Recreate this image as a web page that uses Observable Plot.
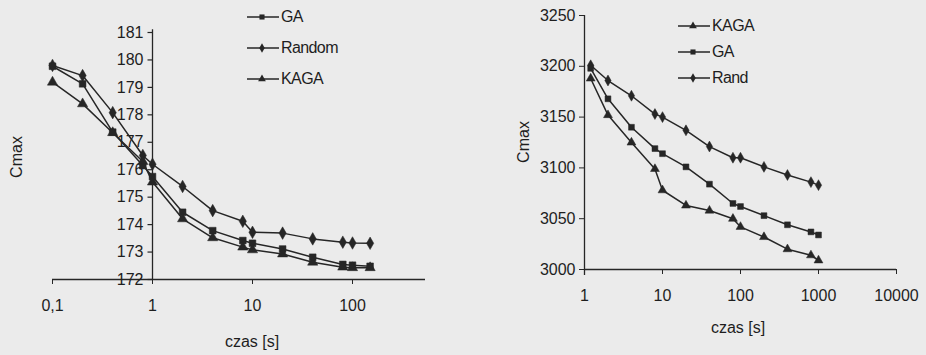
<!DOCTYPE html>
<html>
<head>
<meta charset="utf-8">
<script src="https://cdn.jsdelivr.net/npm/d3@7"></script>
<script src="https://cdn.jsdelivr.net/npm/@observablehq/plot@0.6"></script>
<style>
  html, body { margin: 0; padding: 0; background: #ebebeb; }
  #wrap { position: relative; width: 926px; height: 355px; overflow: hidden; background: #ebebeb;
          font-family: "Liberation Sans", Arial, sans-serif; color: #1e1e1e; }
  .panel { position: absolute; top: 0; }
  .lbl { position: absolute; font-size: 16px; white-space: nowrap; }
  .rot { transform: translate(-50%, -50%) rotate(-90deg); }
  .ctr { transform: translate(-50%, -50%); }
  .leg { position: absolute; display: flex; align-items: center; font-size: 16px; letter-spacing: -0.6px; }
  .leg svg { margin-right: 2px; }
</style>
</head>
<body>
<div id="wrap"></div>
<script>
// ---------- Left chart data ----------
const timesLeft = [0.1, 0.2, 0.4, 0.8, 1, 2, 4, 8, 10, 20, 40, 80, 100, 150];
const gaLeft     = [179.77, 179.13, 177.37, 176.15, 175.75, 174.45, 173.78, 173.42, 173.32, 173.11, 172.81, 172.55, 172.52, 172.48];
const randomLeft = [179.80, 179.43, 178.08, 176.52, 176.20, 175.39, 174.51, 174.12, 173.72, 173.69, 173.48, 173.36, 173.33, 173.32];
const kagaLeft   = [179.19, 178.40, 177.35, 176.30, 175.55, 174.21, 173.52, 173.18, 173.08, 172.93, 172.63, 172.45, 172.43, 172.43];
const seriesLeft = ["GA", "Random", "KAGA"];
const yTicksLeft = [172, 173, 174, 175, 176, 177, 178, 179, 180, 181];
const xTicksLeft = [0.1, 1, 10, 100];

// ---------- Right chart data ----------
const timesRight = [1.2, 2, 4, 8, 10, 20, 40, 80, 100, 200, 400, 800, 1000];
const kagaRight  = [3188, 3152, 3125, 3099, 3078, 3063, 3058, 3050, 3042, 3032, 3020, 3014, 3009];
const gaRight    = [3198, 3168, 3140, 3119, 3114, 3101, 3084, 3065, 3062, 3053, 3044, 3037, 3034];
const randRight  = [3201, 3186, 3171, 3153, 3150, 3137, 3121, 3110, 3110, 3101, 3093, 3086, 3083];
const seriesRight = ["KAGA", "GA", "Rand"];
const yTicksRight = [3000, 3050, 3100, 3150, 3200, 3250];
const xTicksRight = [1, 10, 100, 1000, 10000];

const INK = "#262626";
const FONT = '"Liberation Sans", Arial, sans-serif';
const fmtComma = d => String(d).replace(".", ",");
const tickSym = { draw(ctx) { ctx.moveTo(-5, 0); ctx.lineTo(0, 0); } };

function rows(times, names, arrays) {
  const out = [];
  names.forEach((name, i) => arrays[i].forEach((v, j) => out.push({ t: times[j], v, series: name })));
  return out;
}

const leftRows = rows(timesLeft, seriesLeft, [gaLeft, randomLeft, kagaLeft]);
const rightRows = rows(timesRight, seriesRight, [kagaRight, gaRight, randRight]);

const symbolMap = { GA: "square", Random: "diamond", Rand: "diamond", KAGA: "triangle" };

const left = Plot.plot({
  width: 460, height: 355,
  marginLeft: 52, marginRight: 35, marginTop: 32, marginBottom: 76,
  style: { background: "transparent", fontFamily: FONT, fontSize: "16px", color: "#1e1e1e", overflow: "visible" },
  x: { type: "log", domain: [0.1, 537] },
  y: { domain: [172, 181], axis: null },
  symbol: { domain: seriesLeft, range: seriesLeft.map(s => symbolMap[s]) },
  marks: [
    Plot.ruleY([172], { stroke: INK, strokeWidth: 1.3 }),
    Plot.ruleX([1], { y1: () => 172, y2: () => 181.1, stroke: INK, strokeWidth: 1.3 }),
    Plot.axisX({ ticks: xTicksLeft, tickSize: 5, tickPadding: 15, tickFormat: fmtComma, label: null, stroke: INK }),
    Plot.dot(yTicksLeft, { x: () => 1, y: d => d, symbol: tickSym, stroke: INK, fill: "none", strokeWidth: 1.2 }),
    Plot.text(yTicksLeft, { x: () => 1, y: d => d, dx: -9, textAnchor: "end", fill: "#1e1e1e", fontSize: 16 }),
    Plot.line(leftRows, { x: "t", y: "v", z: "series", stroke: INK, strokeWidth: 1.5 }),
    Plot.dot(leftRows, { x: "t", y: "v", symbol: "series", fill: INK, stroke: INK, strokeWidth: 0.5, r: 3.8 })
  ]
});

const right = Plot.plot({
  width: 466, height: 355,
  marginLeft: 124, marginRight: 30, marginTop: 15, marginBottom: 86,
  style: { background: "transparent", fontFamily: FONT, fontSize: "16px", color: "#1e1e1e", overflow: "visible" },
  x: { type: "log", domain: [1, 10000] },
  y: { domain: [3000, 3250] },
  symbol: { domain: seriesRight, range: seriesRight.map(s => symbolMap[s]) },
  marks: [
    Plot.ruleY([3000], { stroke: INK, strokeWidth: 1.3 }),
    Plot.ruleX([1], { y1: () => 2994, y2: () => 3250, stroke: INK, strokeWidth: 1.3 }),
    Plot.axisX({ ticks: xTicksRight, tickSize: 5, tickPadding: 15, tickFormat: d => String(d), label: null, stroke: INK }),
    Plot.axisY({ ticks: yTicksRight, tickSize: 5, tickPadding: 4, tickFormat: d => String(d), label: null, stroke: INK, letterSpacing: -1 }),
    Plot.line(rightRows, { x: "t", y: "v", z: "series", stroke: INK, strokeWidth: 1.5 }),
    Plot.dot(rightRows, { x: "t", y: "v", symbol: "series", fill: INK, stroke: INK, strokeWidth: 0.5, r: 3.3 })
  ]
});

const wrap = document.getElementById("wrap");
function place(node, x) { node.classList.add("panel"); node.style.left = x + "px"; wrap.appendChild(node); }
place(left, 0);
place(right, 460);

function label(text, x, y, cls) {
  const d = document.createElement("div");
  d.className = "lbl " + cls;
  d.style.left = x + "px"; d.style.top = y + "px";
  d.textContent = text;
  wrap.appendChild(d);
}
label("Cmax", 17, 157, "rot");
label("czas [s]", 252, 342, "ctr");
label("Cmax", 524, 142, "rot");
label("czas [s]", 738, 328, "ctr");

function legendItem(name, x, y) {
  const d = document.createElement("div");
  d.className = "leg";
  d.style.left = x + "px"; d.style.top = (y - 10) + "px"; d.style.height = "20px";
  const sym = d3.symbol().type({ square: d3.symbolSquare, diamond: d3.symbolDiamond, triangle: d3.symbolTriangle }[symbolMap[name]]).size(26)();
  d.innerHTML = `<svg width="32" height="12"><line x1="0" y1="6" x2="32" y2="6" stroke="${INK}" stroke-width="1.5"/><path d="${sym}" transform="translate(15,6)" fill="${INK}"/></svg>`;
  const s = document.createElement("span");
  s.textContent = name;
  d.appendChild(s);
  wrap.appendChild(d);
}
legendItem("GA", 247, 17);
legendItem("Random", 247, 48);
legendItem("KAGA", 247, 79);
legendItem("KAGA", 678, 26);
legendItem("GA", 678, 52);
legendItem("Rand", 678, 78);
</script>
</body>
</html>
